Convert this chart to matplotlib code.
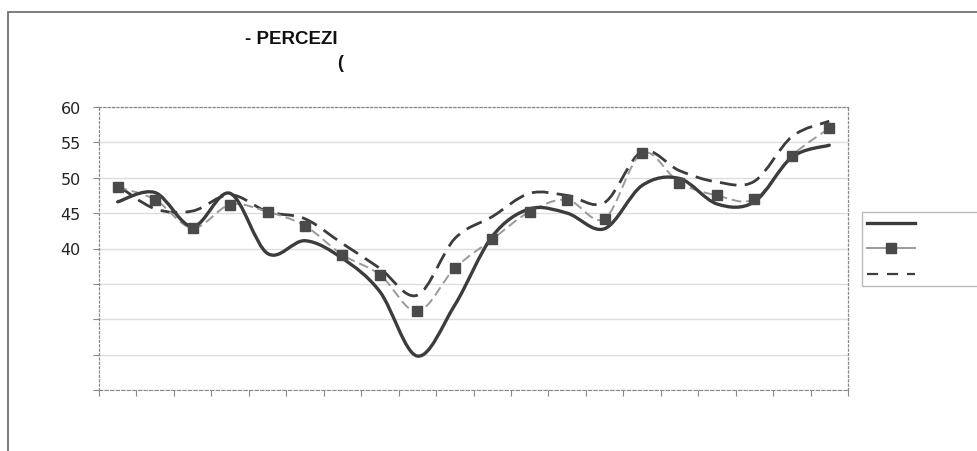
import numpy as np
import matplotlib.pyplot as plt
from matplotlib.path import Path
from matplotlib.patches import PathPatch, Rectangle
from matplotlib.lines import Line2D

# values (20 periods, labels hidden in the source)
serie_a = [46.6, 47.9, 43.1, 47.8, 39.3, 41.1, 38.6, 33.9, 24.8, 32.0,
           41.7, 45.6, 45.0, 42.8, 48.9, 49.9, 46.3, 46.6, 52.9, 54.6]
serie_b = [48.7, 46.9, 42.9, 46.2, 45.2, 43.2, 39.1, 36.3, 31.1, 37.2,
           41.3, 45.2, 46.9, 44.2, 53.5, 49.3, 47.5, 47.0, 53.1, 57.0]
serie_c = [48.9, 45.6, 45.3, 47.6, 45.2, 44.2, 40.7, 37.2, 33.4, 41.4,
           44.5, 47.8, 47.5, 46.5, 53.7, 51.0, 49.4, 49.5, 55.8, 58.0]
y_ticks = [20, 25, 30, 35, 40, 45, 50, 55, 60]
y_labels = ['', '', '', '', '40', '45', '50', '55', '60']


def smooth_path(xs, ys):
    # smoothed line like the spreadsheet one: bezier segments through the points
    p = np.column_stack([xs, ys])
    pts = np.vstack([p[0], p, p[-1]])
    verts = [p[0]]
    codes = [Path.MOVETO]
    for i in range(1, len(pts) - 2):
        c1 = pts[i] + (pts[i + 1] - pts[i - 1]) / 6
        c2 = pts[i + 1] - (pts[i + 2] - pts[i]) / 6
        verts += [c1, c2, pts[i + 1]]
        codes += [Path.CURVE4] * 3
    return Path(verts, codes)


fig = plt.figure(figsize=(9.77, 4.52), dpi=100)
ax = fig.add_axes([99 / 977, 1 - 391 / 452, 749 / 977, 283 / 452])

x = np.arange(len(serie_a)) + 0.5
dark = '#3c3c3c'

ax.add_patch(PathPatch(smooth_path(x, serie_a), fill=False, edgecolor=dark,
                       lw=2.4, capstyle='round', zorder=4))
ax.add_patch(PathPatch(smooth_path(x, serie_c), fill=False, edgecolor=dark,
                       lw=2.0, linestyle=(0, (6, 3)), zorder=3))
ax.add_patch(PathPatch(smooth_path(x, serie_b), fill=False, edgecolor='#9a9a9a',
                       lw=1.4, linestyle=(0, (5, 2.5)), zorder=3))
ax.plot(x, serie_b, linestyle='none', marker='s', markersize=7,
        color='#4a4a4a', zorder=5)

ax.set_xlim(0, 20)
ax.set_ylim(20, 60)
ax.set_xticks(np.arange(21))
ax.set_xticklabels([])
ax.set_yticks(y_ticks)
ax.set_yticklabels(y_labels, fontsize=11.5, color='#222222')
ax.tick_params(axis='x', direction='out', length=4, color='#888888')
ax.tick_params(axis='y', direction='out', length=4, color='#888888', pad=9)
ax.grid(axis='y', color='#dddddd', lw=1)
ax.set_axisbelow(True)
for side in ['top', 'right', 'left']:
    ax.spines[side].set_linestyle((0, (1.5, 2)))
    ax.spines[side].set_color('#888888')
    ax.spines[side].set_linewidth(0.9)
ax.spines['bottom'].set_linestyle((0, (3, 2)))
ax.spines['bottom'].set_color('#888888')

# truncated title, as in the source
fig.text(245 / 977, 1 - 40 / 452, '- PERCEZI', fontsize=13.5, fontweight='bold',
         family='Liberation Sans', ha='left', va='center', color='#111111')
fig.text(337 / 977, 1 - 64 / 452, '(', fontsize=13, fontweight='bold',
         family='Liberation Sans', ha='left', va='center', color='#111111')

# outer frame
fig.patches.append(Rectangle((8 / 977, -0.05), 1.2, 1 - 13 / 452 + 0.05,
                             transform=fig.transFigure, fill=False,
                             edgecolor='#666666', lw=1.2))

handles = [
    Line2D([], [], color=dark, lw=2.4),
    Line2D([], [], color='#9a9a9a', lw=1.4, marker='s', markersize=7,
           markerfacecolor='#4a4a4a', markeredgecolor='#4a4a4a'),
    Line2D([], [], color=dark, lw=1.6, linestyle=(0, (5, 4))),
]
leg = ax.legend(handles, [' ' * 14] * 3, loc='upper left',
                bbox_to_anchor=(862 / 977, 1 - 213 / 452),
                bbox_transform=fig.transFigure, borderaxespad=0,
                fancybox=False, frameon=True, handlelength=3.8,
                labelspacing=1.0, fontsize=9)
leg.get_frame().set_edgecolor('#aaaaaa')
leg.get_frame().set_linewidth(1)

fig.savefig('out.png', dpi=100)
